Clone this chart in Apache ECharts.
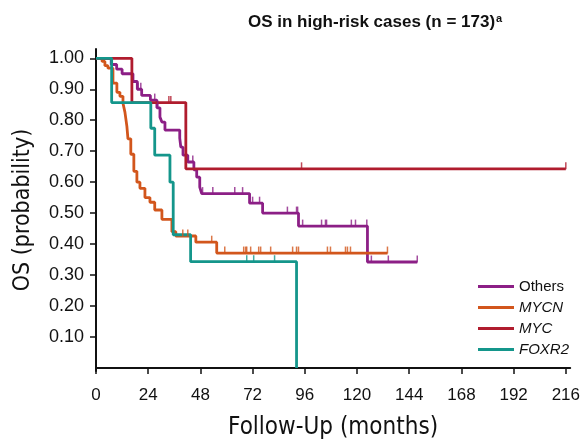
<!DOCTYPE html>
<html>
<head>
<meta charset="utf-8">
<script src="https://cdn.jsdelivr.net/npm/echarts@6/dist/echarts.min.js"></script>
<style>
  html, body { margin: 0; padding: 0; background: #fff; }
  #chart { width: 583px; height: 445px; }
</style>
</head>
<body>
<div id="chart"></div>
<script>
// Kaplan-Meier steps: [months, survival after the drop]
var othersCurve = [[0, 1], [7, 0.98], [9.5, 0.965], [12, 0.95], [17, 0.925], [19, 0.9], [21, 0.88],
  [25, 0.865], [28, 0.84], [29.4, 0.81], [30.3, 0.794], [31.7, 0.768], [38.5, 0.742], [39, 0.713],
  [40, 0.687], [42.2, 0.665], [45, 0.64], [46.3, 0.616], [47.7, 0.584], [48.6, 0.563],
  [70.6, 0.532], [76.6, 0.5], [93.1, 0.458], [124.8, 0.342], [147.7, 0.342]];
var mycnCurve = [[0, 1], [2.8, 0.99], [4.1, 0.976], [5.5, 0.968], [7.8, 0.92], [9.6, 0.89], [11, 0.877],
  [12.4, 0.855], [13.3, 0.826], [14.2, 0.78], [14.7, 0.74], [16, 0.69], [17.4, 0.635], [18.8, 0.6],
  [20.2, 0.58], [22.5, 0.55], [24.8, 0.535], [27, 0.51], [30.3, 0.48], [34.9, 0.44], [36.7, 0.426],
  [45.9, 0.406], [55.5, 0.371], [134, 0.371]];
var mycCurve = [[0, 1], [16.5, 0.857], [41.3, 0.643], [216, 0.643]];
var foxr2Curve = [[0, 1], [7.2, 0.857], [25.2, 0.774], [27, 0.687], [34, 0.6], [35.5, 0.43],
  [43.5, 0.343], [92.2, 0]];

// censored times (months)
var othersCensor = [19.3, 20.6, 27, 28.4, 44.5, 49, 53.7, 63.8, 67.4, 72, 75.2, 88, 92.2, 92.7,
  95, 103.7, 105.5, 106, 117.4, 119.3, 124.5, 126.6, 134.4, 147.7];
var mycnCensor = [39.9, 42.2, 53.2, 59.2, 67.9, 68.8, 69.3, 71.1, 74.8, 75.7, 80.3, 90.4, 92.2, 93.1,
  106.4, 107.8, 114.7, 115.6, 117, 134];
var mycCensor = [33.5, 34.4, 94.5, 216];
var foxr2Censor = [69.3, 72.5, 82.1];

var groupNames = ['Others', 'MYCN', 'MYC', 'FOXR2'];
var groupColors = ['#8c1f86', '#d2561c', '#b01c2e', '#14968b'];
var xTicks = [0, 24, 48, 72, 96, 120, 144, 168, 192, 216];
var yTicks = [0.1, 0.2, 0.3, 0.4, 0.5, 0.6, 0.7, 0.8, 0.9, 1.0];

var narrow = "'DejaVu Sans Condensed', Roboto, sans-serif";

function survAt(curve, t) {
  var s = curve[0][1];
  for (var i = 0; i < curve.length; i++) {
    if (curve[i][0] <= t) s = curve[i][1];
  }
  return s;
}

var curves = [othersCurve, mycnCurve, mycCurve, foxr2Curve];
var censors = [othersCensor, mycnCensor, mycCensor, foxr2Censor];

var series = [];
curves.forEach(function (c, i) {
  series.push({
    name: groupNames[i],
    type: 'line',
    step: 'end',
    symbol: 'none',
    lineStyle: { color: groupColors[i], width: 2.8 },
    itemStyle: { color: groupColors[i] },
    data: c,
    z: 3
  });
});
censors.forEach(function (ts, i) {
  series.push({
    name: groupNames[i] + ' censored',
    type: 'scatter',
    symbol: 'rect',
    symbolSize: [1.5, 7],
    symbolOffset: [0, -3],
    itemStyle: { color: groupColors[i] },
    data: ts.map(function (t) { return [t, survAt(curves[i], t)]; }),
    z: 4
  });
});

var chart = echarts.init(document.getElementById('chart'));
chart.setOption({
  animation: false,
  title: {
    text: 'OS in high-risk cases (n = 173){sup|a}',
    left: 243, top: 8,
    textStyle: {
      fontFamily: 'Liberation Sans', fontSize: 17, fontWeight: 'bold', color: '#111',
      rich: { sup: { fontFamily: 'Liberation Sans', fontSize: 11, fontWeight: 'bold', color: '#111', padding: [0, 0, 8, 1] } }
    }
  },
  legend: {
    orient: 'vertical',
    left: 473, top: 274,
    itemWidth: 36, itemHeight: 3, itemGap: 6,
    icon: 'rect',
    textStyle: { fontFamily: 'Liberation Sans', fontSize: 15, color: '#111' },
    data: [
      { name: 'Others' },
      { name: 'MYCN', textStyle: { fontStyle: 'italic' } },
      { name: 'MYC', textStyle: { fontStyle: 'italic' } },
      { name: 'FOXR2', textStyle: { fontStyle: 'italic' } }
    ]
  },
  grid: { left: 96, right: 11, top: 49, bottom: 74 },
  xAxis: {
    type: 'value',
    min: 0, max: 218,
    name: 'Follow-Up (months)',
    nameLocation: 'middle',
    nameGap: 45,
    nameTextStyle: { fontFamily: narrow, fontSize: 24, color: '#111' },
    axisLine: { lineStyle: { color: '#111', width: 2 } },
    axisTick: { length: 6, lineStyle: { color: '#111', width: 1.5 }, customValues: xTicks },
    axisLabel: { margin: 16, fontFamily: 'Liberation Sans', fontSize: 17, color: '#111', customValues: xTicks },
    splitLine: { show: false }
  },
  yAxis: {
    type: 'value',
    min: -0.01, max: 1.03,
    name: 'OS (probability)',
    nameLocation: 'middle',
    nameGap: 61,
    nameTextStyle: { fontFamily: narrow, fontSize: 23, color: '#111' },
    axisLine: { show: true, lineStyle: { color: '#111', width: 2 } },
    axisTick: { show: true, length: 6, lineStyle: { color: '#111', width: 1.5 }, customValues: yTicks },
    axisLabel: {
      margin: 12, fontFamily: 'Liberation Sans', fontSize: 18, color: '#111', customValues: yTicks,
      formatter: function (v) { return v.toFixed(2); }
    },
    splitLine: { show: false }
  },
  series: series
});
</script>
</body>
</html>
